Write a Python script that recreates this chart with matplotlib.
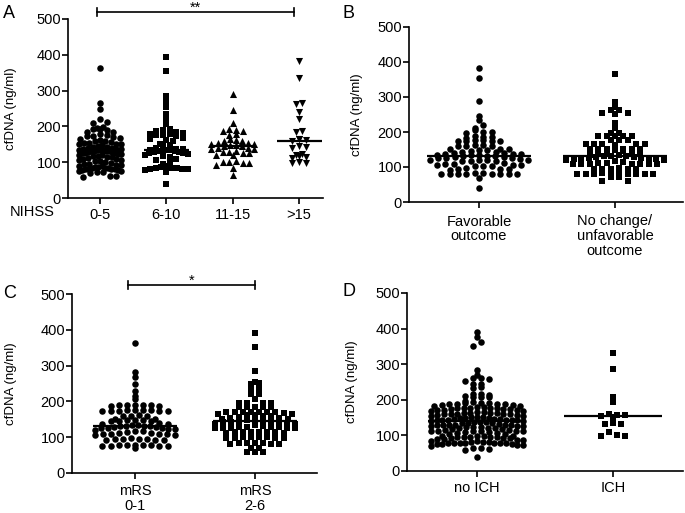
import matplotlib.pyplot as plt
import numpy as np

plt.rcParams['font.family'] = ['Liberation Sans', 'DejaVu Sans']

# ---- data (cfDNA, ng/ml) ----
nihss_labels = ['0-5', '6-10', '11-15', '>15']
nihss_0_5 = [364, 266, 249, 220, 212, 210, 198, 196, 194, 192, 190, 185, 183,
             178, 176, 174, 172, 170, 168, 165, 163, 160, 158, 156, 155, 155,
             152, 150, 150, 148, 145, 143, 142, 140, 140, 138, 137, 136, 135,
             134, 134, 133, 132, 131, 130, 130, 129, 128, 127, 126, 125, 124,
             122, 120, 119, 118, 116, 115, 114, 112, 110, 108, 106, 105, 104,
             102, 100, 98, 96, 95, 93, 92, 90, 88, 87, 86, 85, 84, 83, 82, 81,
             80, 80, 79, 78, 76, 75, 74, 72, 70, 62, 61, 60]
nihss_6_10 = [395, 355, 286, 272, 255, 235, 224, 206, 192, 190, 188, 183, 181,
              180, 178, 176, 175, 172, 168, 165, 162, 158, 152, 148, 145, 140,
              138, 136, 135, 134, 133, 132, 131, 130, 129, 128, 127, 125, 122,
              120, 118, 115, 110, 105, 100, 95, 88, 86, 85, 84, 83, 82, 81, 80,
              79, 73, 40]
nihss_11_15 = [290, 246, 209, 192, 190, 188, 186, 178, 175, 164, 162, 160, 158,
               154, 153, 152, 150, 148, 147, 146, 145, 140, 139, 138, 137, 130,
               129, 128, 127, 126, 121, 119, 102, 101, 100, 99, 98, 92, 83, 64]
nihss_gt15 = [383, 336, 265, 262, 241, 221, 186, 184, 166, 164, 162, 160, 145,
              143, 141, 122, 120, 118, 115, 113, 101, 99, 97]

outcome_labels = ['Favorable\noutcome', 'No change/\nunfavorable\noutcome']
favorable = [384, 355, 289, 246, 233, 219, 210, 205, 200, 199, 198, 188, 186,
             185, 184, 177, 176, 175, 175, 174, 173, 163, 162, 161, 160, 160,
             151, 150, 150, 149, 148, 146, 144, 142, 140, 139, 138, 137, 136,
             135, 134, 133, 132, 131, 130, 129, 128, 127, 126, 125, 124, 121,
             120, 119, 119, 118, 117, 116, 112, 110, 108, 106, 105, 105, 104,
             104, 103, 96, 95, 94, 93, 92, 82, 82, 81, 81, 81, 80, 80, 80, 79,
             79, 68, 39]
unfavorable = [367, 286, 271, 262, 262, 255, 255, 250, 226, 210, 197, 197, 188,
               188, 188, 188, 188, 178, 178, 178, 167, 167, 167, 167, 165, 163,
               152, 152, 152, 152, 152, 150, 148, 145, 143, 140, 138, 136, 135,
               134, 132, 131, 130, 129, 128, 127, 126, 125, 124, 123, 122, 121,
               120, 118, 115, 112, 111, 110, 110, 110, 110, 110, 109, 108, 96,
               95, 95, 95, 94, 94, 82, 82, 82, 81, 81, 81, 80, 80, 80, 80, 71,
               71, 60, 60]

mrs_labels = ['mRS\n0-1', 'mRS\n2-6']
mrs_0_1 = [362, 281, 267, 248, 230, 215, 207, 191, 190, 190, 189, 189, 188, 188,
           176, 176, 175, 175, 174, 174, 173, 173, 172, 161, 160, 159, 158, 150,
           150, 149, 148, 147, 146, 145, 144, 140, 138, 136, 134, 133, 132, 131,
           130, 130, 129, 128, 127, 126, 125, 124, 122, 120, 118, 116, 114, 112,
           111, 110, 110, 109, 108, 107, 106, 97, 96, 96, 95, 94, 93, 92, 91, 79,
           78, 78, 77, 77, 76, 76, 75, 75, 69]
mrs_2_6 = [392, 353, 286, 255, 252, 250, 237, 236, 221, 220, 206, 195, 195, 195,
           195, 183, 183, 183, 183, 183, 171, 171, 171, 171, 171, 171, 171, 168,
           166, 165, 163, 162, 160, 158, 157, 155, 153, 152, 150, 149, 148, 147,
           146, 145, 144, 143, 142, 140, 138, 136, 134, 130, 129, 129, 128, 128,
           127, 127, 126, 126, 125, 115, 115, 115, 114, 114, 114, 113, 113, 100,
           100, 100, 100, 99, 99, 99, 99, 84, 83, 83, 83, 82, 82, 82, 69, 69, 58,
           58, 58]

ich_labels = ['no ICH', 'ICH']
no_ich = [391, 377, 363, 351, 284, 270, 261, 260, 258, 253, 245, 243, 235, 233,
          217, 216, 214, 210, 209, 208, 207, 196, 194,
          191, 190, 190, 189, 188, 188, 187, 186, 185, 183, 182, 180,
          179, 178, 178, 177, 177, 176, 175, 175, 174, 172, 171, 170, 169, 168,
          166, 165, 164, 163,
          162, 162, 161, 161, 160, 160, 159, 158, 156, 155, 154, 153, 152, 151,
          150, 149, 148, 147, 146, 145,
          144, 144, 143, 143, 142, 142, 141, 140, 139, 138, 137, 136, 135, 134,
          131, 130, 130, 129, 129, 128, 128, 127, 127, 126, 125, 124, 123, 122,
          121, 120, 119, 118,
          115, 114, 113, 113, 112, 112, 111, 111, 110, 109, 108, 106, 105, 104,
          99, 98, 97, 97, 96, 96, 96, 95, 95, 94, 93, 92, 91, 90,
          88, 86, 84, 83, 82, 81, 81, 80, 80, 80, 79, 79, 78, 78, 77, 76, 75,
          74, 72, 70, 66, 64, 62, 60, 38]
ich = [331, 286, 207, 195, 160, 158, 157, 155, 153, 134, 133, 132, 110, 100, 99,
       98]


def swarm(ax, pos, vals, marker, size, dx, bh, half):
    vals = np.asarray(vals, float)
    xs = np.full(len(vals), float(pos))
    bins = np.floor(vals / bh).astype(int)
    for b in np.unique(bins):
        idx = np.where(bins == b)[0]
        idx = idx[np.argsort(-vals[idx])]
        n = len(idx)
        step = dx if n < 2 else min(dx, 2 * half / (n - 1))
        slots = (np.arange(n) - (n - 1) / 2) * step
        order = np.argsort(np.abs(slots) + 1e-6 * np.arange(n)[::-1] * ((-1) ** np.arange(n)))
        xs[idx] = pos + slots[order]
    ax.scatter(xs, vals, marker=marker, s=size, c='black', linewidths=0, zorder=3)
    med = np.median(vals)
    ax.plot([pos - half - 0.02, pos + half + 0.02], [med, med], color='black',
            lw=1.6, zorder=4, solid_capstyle='butt')


def style(ax, labels, xlim, pad):
    ax.set_xlim(*xlim)
    ax.set_ylim(0, 500)
    ax.set_yticks([0, 100, 200, 300, 400, 500])
    ax.set_xticks(range(len(labels)))
    ax.set_xticklabels(labels, linespacing=1.05)
    for s in ['top', 'right']:
        ax.spines[s].set_visible(False)
    for s in ['left', 'bottom']:
        ax.spines[s].set_linewidth(1.2)
    ax.tick_params(axis='both', direction='out', length=4, width=1.2, labelsize=10.5)
    ax.tick_params(axis='y', pad=1)
    ax.tick_params(axis='x', pad=pad)
    ax.set_ylabel('cfDNA (ng/ml)', fontsize=9.5)


def sigbar(ax, x0, x1, y, txt):
    ax.plot([x0, x1], [y, y], color='black', lw=1.2, clip_on=False)
    for xx in (x0, x1):
        ax.plot([xx, xx], [y - 11, y + 11], color='black', lw=1.2, clip_on=False)
    ax.text((x0 + x1) / 2, y + 1, txt, ha='center', va='baseline', fontsize=10.5)


W, H = 685, 513
fig = plt.figure(figsize=(6.85, 5.13), dpi=100)


def box(l, r, b, t):
    return [l / W, 1 - b / H, (r - l) / W, (b - t) / H]


axA = fig.add_axes(box(68, 323, 198, 19))
axB = fig.add_axes(box(409, 683, 202, 27))
axC = fig.add_axes(box(72, 317, 473, 294))
axD = fig.add_axes(box(407, 683, 471, 293))

# A: NIHSS groups
for i, (vals, m, s) in enumerate(zip([nihss_0_5, nihss_6_10, nihss_11_15, nihss_gt15],
                                     ['o', 's', '^', 'v'], [22, 20, 26, 26])):
    swarm(axA, i, vals, m, s, 0.10, 15, 0.32)
style(axA, nihss_labels, (-0.48, 3.36), 3)
axA.yaxis.set_label_coords(-0.2, 0.5)
sigbar(axA, -0.04, 2.92, 520, '**')
fig.text(10 / W, 1 - 212 / H, 'NIHSS', ha='left', va='center', fontsize=10.5)

# B: outcome
swarm(axB, 0, favorable, 'o', 22, 0.062, 15, 0.36)
swarm(axB, 1, unfavorable, 's', 20, 0.062, 15, 0.36)
style(axB, outcome_labels, (-0.515, 1.5), 5)
axB.yaxis.set_label_coords(-0.168, 0.5)

# C: mRS
swarm(axC, 0, mrs_0_1, 'o', 22, 0.068, 15, 0.33)
swarm(axC, 1, mrs_2_6, 's', 20, 0.068, 15, 0.33)
style(axC, mrs_labels, (-0.525, 1.517), 4)
axC.yaxis.set_label_coords(-0.224, 0.5)
sigbar(axC, -0.06, 1.0, 525, '*')

# D: ICH
swarm(axD, 0, no_ich, 'o', 22, 0.058, 14, 0.34)
swarm(axD, 1, ich, 's', 20, 0.058, 14, 0.34)
style(axD, ich_labels, (-0.515, 1.515), 3)
axD.yaxis.set_label_coords(-0.178, 0.5)

for lab, x, y in [('A', 3, 5), ('B', 342, 5), ('C', 3, 285), ('D', 342, 283)]:
    fig.text(x / W, 1 - y / H, lab, ha='left', va='top', fontsize=13)

fig.savefig('out.png', dpi=100)
